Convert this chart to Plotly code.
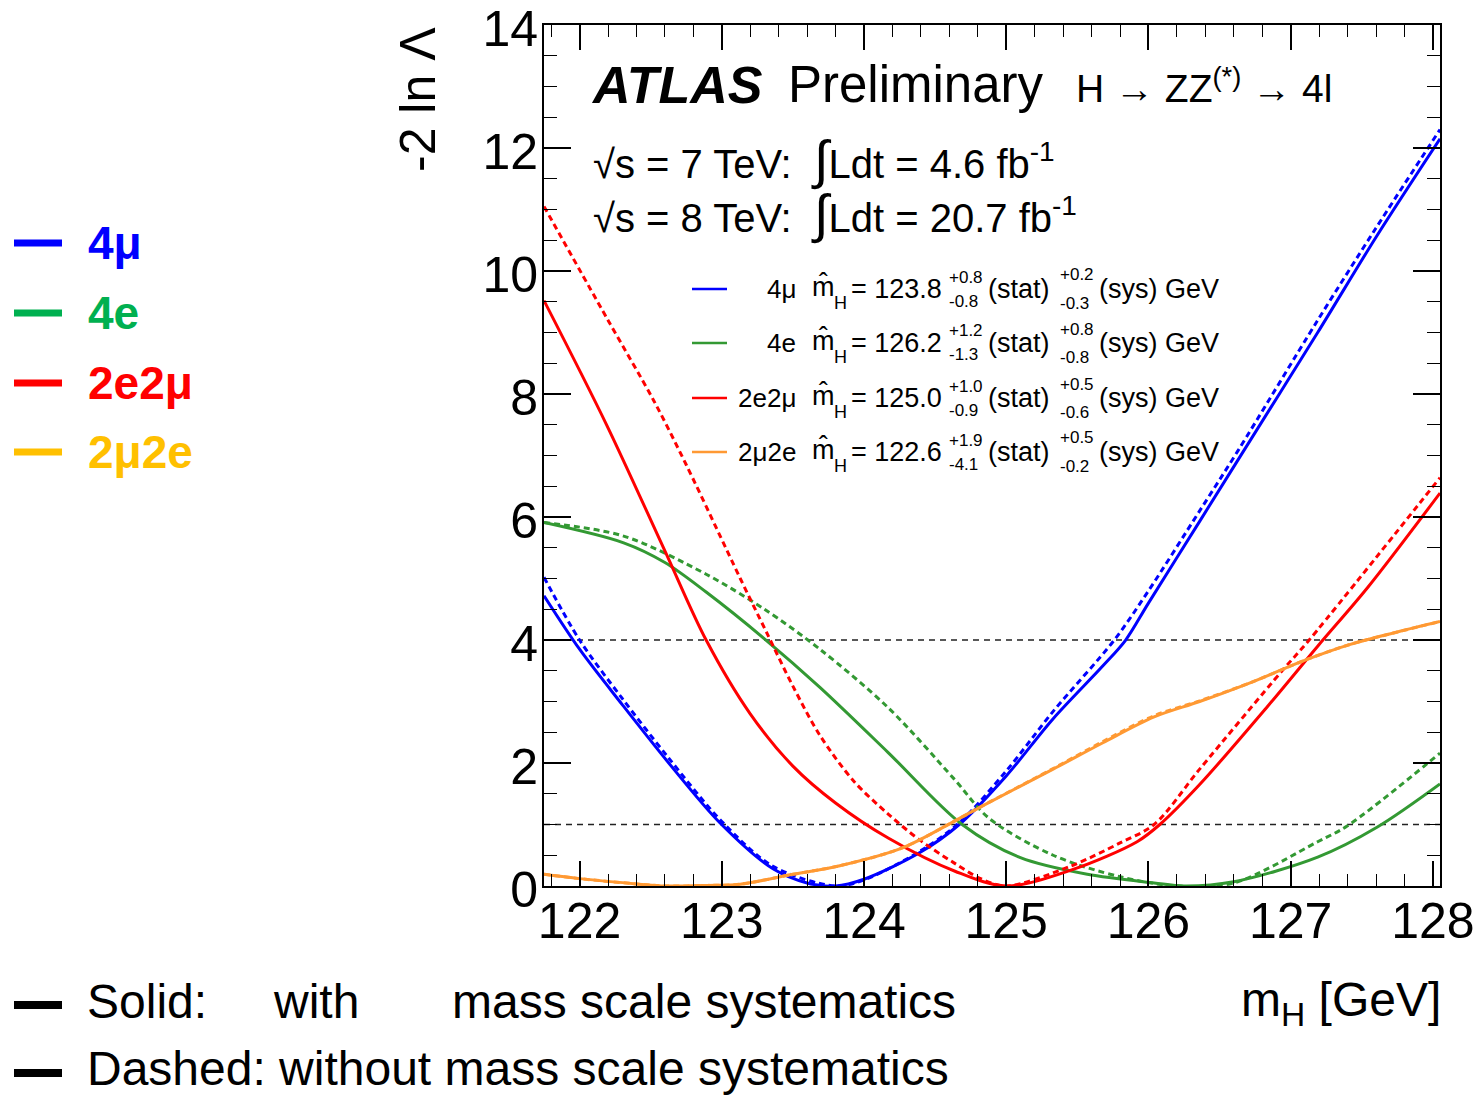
import plotly.graph_objects as go

# ---------------- data ----------------
x_4mu_syst = [121.75, 122.0, 122.3, 122.62, 122.99, 123.36, 123.6, 123.8, 124.0, 124.39, 124.67, 125.0, 125.33,
              125.68, 125.84, 126.0, 126.36, 126.63, 127.19, 127.6, 128.05]
y_4mu_syst = [4.72, 3.85, 2.95, 2.02, 1.02, 0.28, 0.05, 0.0, 0.11, 0.54, 1.0, 1.79, 2.72,
              3.58, 4.0, 4.6, 5.93, 6.93, 9.0, 10.55, 12.15]
x_4mu_nosyst = [121.75, 122.0, 122.3, 122.62, 123.0, 123.36, 123.8, 124.0, 124.39, 124.67, 125.0, 125.33,
                125.76, 126.0, 126.36, 126.63, 127.19, 127.6, 128.05]
y_4mu_nosyst = [5.02, 4.0, 3.05, 2.1, 1.05, 0.32, 0.0, 0.1, 0.56, 1.03, 1.87, 2.84,
                4.0, 4.8, 6.1, 7.08, 9.2, 10.7, 12.3]

x_4e_syst = [121.75, 122.31, 122.6, 122.89, 123.3, 123.69, 124.17, 124.69, 125.1, 125.57, 126.04, 126.25,
             126.6, 127.19, 127.61, 128.05]
y_4e_syst = [5.91, 5.58, 5.26, 4.78, 4.02, 3.23, 2.17, 1.0, 0.46, 0.19, 0.05, 0.0,
             0.07, 0.47, 0.96, 1.66]
x_4e_nosyst = [121.75, 122.31, 122.89, 123.3, 123.69, 124.17, 124.63, 124.88, 125.33, 125.8, 126.2, 126.6,
               127.19, 127.4, 128.05]
y_4e_nosyst = [5.91, 5.69, 5.07, 4.5, 3.85, 2.9, 1.75, 1.1, 0.5, 0.15, 0.0, 0.05,
               0.72, 0.98, 2.16]

x_2e2mu_syst = [121.75, 122.19, 122.6, 122.89, 123.2, 123.5, 123.8, 124.17, 124.64, 125.0, 125.47, 125.92,
                126.08, 126.36, 126.83, 127.19, 127.54, 128.05]
y_2e2mu_syst = [9.52, 7.5, 5.45, 4.0, 2.8, 1.95, 1.35, 0.78, 0.24, 0.0, 0.27, 0.72,
                1.0, 1.65, 2.9, 3.9, 4.85, 6.39]
x_2e2mu_nosyst = [121.75, 122.2, 122.52, 122.75, 123.13, 123.32, 123.5, 123.69, 123.93, 124.17, 124.39, 124.63,
                  124.82, 125.0, 125.45, 125.8, 126.04, 126.36, 126.94, 127.13, 128.05]
y_2e2mu_nosyst = [11.05, 9.2, 7.9, 6.85, 5.0, 4.1, 3.25, 2.45, 1.7, 1.17, 0.75, 0.38,
                  0.12, 0.0, 0.32, 0.7, 1.0, 1.9, 3.5, 4.0, 6.64]

x_2mu2e_syst = [121.75, 122.0, 122.42, 122.6, 122.9, 123.13, 123.5, 123.83, 124.27, 124.64, 124.83, 125.33,
                125.68, 126.04, 126.36, 126.71, 127.11, 127.42, 127.75, 128.05]
y_2mu2e_syst = [0.19, 0.12, 0.03, 0.0, 0.01, 0.03, 0.19, 0.33, 0.62, 1.06, 1.3, 1.9,
                2.33, 2.75, 3.0, 3.3, 3.68, 3.93, 4.13, 4.3]
x_2mu2e_nosyst = list(x_2mu2e_syst)
y_2mu2e_nosyst = [0.19, 0.12, 0.03, 0.0, 0.01, 0.03, 0.19, 0.33, 0.62, 1.06, 1.3, 1.91,
                  2.35, 2.77, 3.01, 3.3, 3.68, 3.93, 4.13, 4.3]

x_ticks = [122, 123, 124, 125, 126, 127, 128]
y_ticks = [0, 2, 4, 6, 8, 10, 12, 14]
ref_levels = [1, 4]

channels = ["4μ", "4e", "2e2μ", "2μ2e"]
mass_central = ["123.8", "126.2", "125.0", "122.6"]
stat_up = ["+0.8", "+1.2", "+1.0", "+1.9"]
stat_dn = ["-0.8", "-1.3", "-0.9", "-4.1"]
sys_up = ["+0.2", "+0.8", "+0.5", "+0.5"]
sys_dn = ["-0.3", "-0.8", "-0.6", "-0.2"]

# ---------------- styling ----------------
curve_colors = ["#0000FF", "#339933", "#FF0000", "#FF9933"]
side_colors = ["#0000FF", "#00B050", "#FF0000", "#FFC000"]
FONT = "Liberation Sans, Arial, Helvetica, sans-serif"

W, H = 1480, 1095
L, R, T, B = 544, 1440, 25, 886


def PX(px):
    return (px - L) / (R - L)


def PY(py):
    return (B - py) / (B - T)


fig = go.Figure()

series = [
    (x_4mu_syst, y_4mu_syst, x_4mu_nosyst, y_4mu_nosyst),
    (x_4e_syst, y_4e_syst, x_4e_nosyst, y_4e_nosyst),
    (x_2e2mu_syst, y_2e2mu_syst, x_2e2mu_nosyst, y_2e2mu_nosyst),
    (x_2mu2e_syst, y_2mu2e_syst, x_2mu2e_nosyst, y_2mu2e_nosyst),
]
for (xs, ys, xn, yn), col, name in zip(series, curve_colors, channels):
    fig.add_trace(go.Scatter(x=xn, y=yn, mode="lines", name=name + " no syst",
                             line=dict(color=col, width=3, dash="6px,4px", shape="spline", smoothing=0.9),
                             showlegend=False))
    fig.add_trace(go.Scatter(x=xs, y=ys, mode="lines", name=name,
                             line=dict(color=col, width=3, shape="spline", smoothing=0.9),
                             showlegend=False))

shapes = []
for lv in ref_levels:
    shapes.append(dict(type="line", xref="paper", x0=0, x1=1, yref="y", y0=lv, y1=lv,
                       line=dict(color="#222222", width=1.3, dash="6px,5px"), layer="below"))

ann = []


def text(px, py, s, size, xanchor="left", color="black", family=FONT, **kw):
    ann.append(dict(x=PX(px), y=PY(py), xref="paper", yref="paper", text=s, showarrow=False,
                    xanchor=xanchor, yanchor="middle", font=dict(size=size, color=color, family=family), **kw))


# header
text(589, 85, "<b><i>ATLAS</i></b>", 52)
text(786, 85, "Preliminary", 51)
text(1074, 86, "H → ZZ<sup>(*)</sup> → 4l", 39)
INT = '<span style="font-size:53px">∫</span>'
text(591, 160, "√s = 7 TeV:  " + INT + "Ldt = 4.6 fb<sup>-1</sup>", 40)
text(591, 214, "√s = 8 TeV:  " + INT + "Ldt = 20.7 fb<sup>-1</sup>", 40)

# internal legend
row_y = [289, 343, 398, 452]
for i in range(4):
    ry = row_y[i]
    shapes.append(dict(type="line", xref="paper", yref="paper", x0=PX(692), x1=PX(727), y0=PY(ry), y1=PY(ry),
                       line=dict(color=curve_colors[i], width=2.5)))
    text(798, ry, channels[i], 26, xanchor="right")
    text(810, ry - 2, "m\u0302", 27)
    text(832, ry + 14, "H", 18)
    text(849, ry, "= " + mass_central[i], 27)
    text(947, ry - 12, stat_up[i], 17)
    text(947, ry + 12, stat_dn[i], 17)
    text(986, ry, "(stat)", 27)
    text(1058, ry - 14, sys_up[i], 17)
    text(1058, ry + 14, sys_dn[i], 17)
    text(1097, ry, "(sys) GeV", 27)

# side legend
side_y = [243, 313, 383, 452]
for i in range(4):
    shapes.append(dict(type="line", xref="paper", yref="paper", x0=PX(14), x1=PX(62), y0=PY(side_y[i]),
                       y1=PY(side_y[i]), line=dict(color=side_colors[i], width=7)))
    text(86, side_y[i], "<b>" + channels[i] + "</b>", 46, color=side_colors[i])

# bottom legend
for yy in [1005, 1073]:
    shapes.append(dict(type="line", xref="paper", yref="paper", x0=PX(14), x1=PX(62), y0=PY(yy), y1=PY(yy),
                       line=dict(color="black", width=8)))
text(85, 1001, "Solid:", 48)
text(271, 1001, "with", 48)
text(450, 1001, "mass scale systematics", 48)
text(85, 1068, "Dashed: without mass scale systematics", 48)

# axis titles
text(1443, 1003, "m<sub>H</sub> [GeV]", 48, xanchor="right")
ann.append(dict(x=PX(418), y=PY(100), xref="paper", yref="paper", text="-2 ln Λ", showarrow=False,
                textangle=-90, xanchor="center", yanchor="middle", font=dict(size=50, family=FONT, color="black")))

axis_common = dict(showline=True, linecolor="black", linewidth=2, mirror="ticks", ticks="inside",
                   tickcolor="black", tickwidth=1.5, showgrid=False, zeroline=False,
                   ticklabeloverflow="allow", automargin=False,
                   tickfont=dict(size=50, family=FONT, color="black"))
fig.update_layout(
    width=W, height=H,
    margin=dict(l=L, r=W - R, t=T, b=H - B, pad=0, autoexpand=False),
    paper_bgcolor="white", plot_bgcolor="white",
    xaxis=dict(range=[121.75, 128.05], tickvals=x_ticks, ticklen=25, ticklabelstandoff=-10,
               minor=dict(dtick=0.2, tick0=122, ticklen=12, ticks="inside", tickcolor="black", tickwidth=1.2),
               **axis_common),
    yaxis=dict(range=[0, 14.001], tickvals=y_ticks, ticklen=27, ticklabelstandoff=-6, ticklabelshift=3,
               minor=dict(dtick=0.5, tick0=0, ticklen=13, ticks="inside", tickcolor="black", tickwidth=1.2),
               **axis_common),
    shapes=shapes, annotations=ann, showlegend=False,
)

fig.write_html("out.html")
